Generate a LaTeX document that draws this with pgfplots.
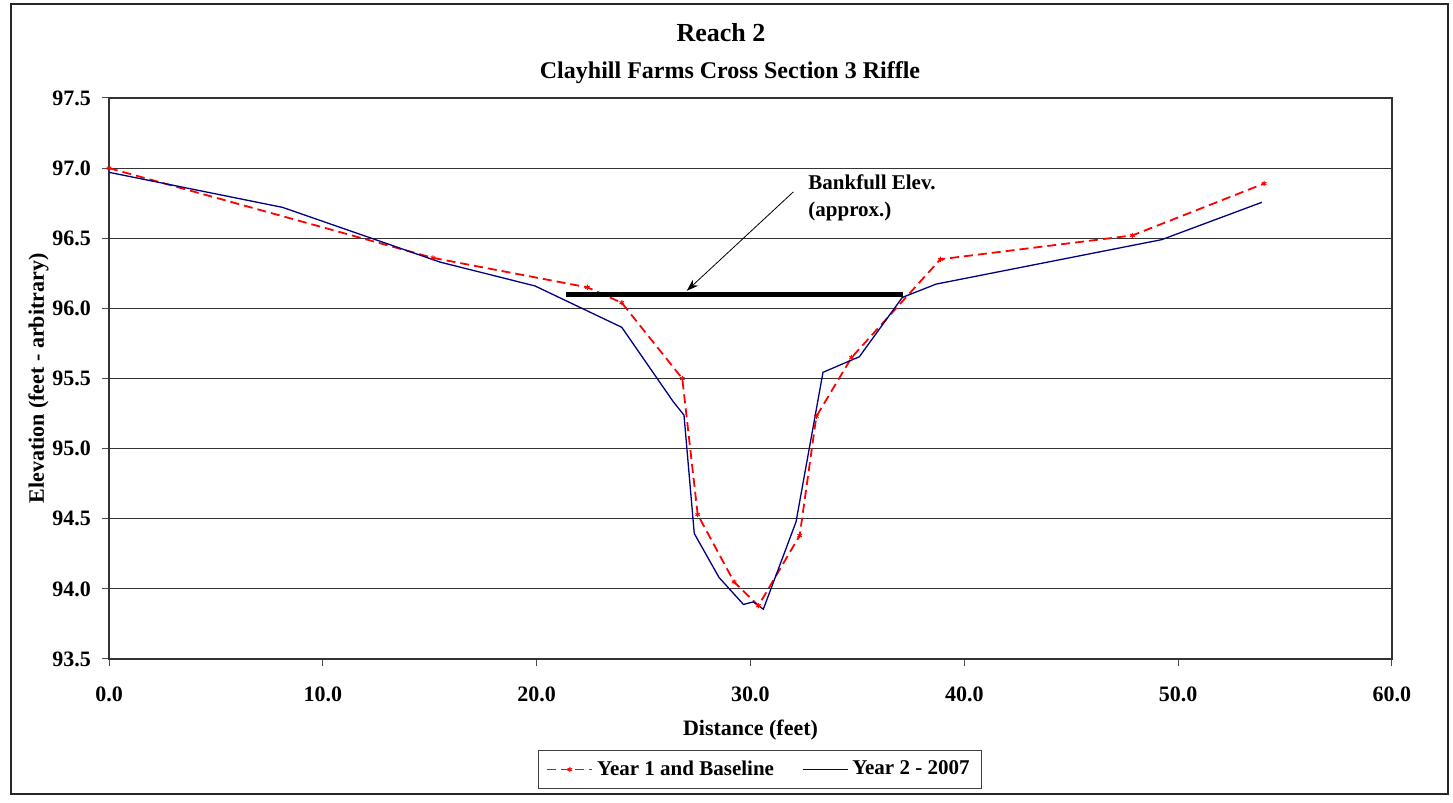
\documentclass[border=0pt]{standalone}
\usepackage{fontspec}
\setmainfont{Liberation Serif}
\usepackage{pgfplots}
\pgfplotsset{compat=1.18}
\usetikzlibrary{arrows.meta}

\definecolor{yearone}{RGB}{255,0,0}
\definecolor{yeartwo}{RGB}{0,0,128}

\begin{document}
\begin{tikzpicture}
  \path[use as bounding box] (0,0) rectangle (726.5pt,401.5pt);
  \draw[black!85, line width=0.8pt] (5.5pt,4.5pt) rectangle (724pt,399.5pt);
  \node[anchor=base, font=\bfseries\fontsize{13}{15}\selectfont] at (360.5pt,380.6pt) {Reach 2};
  \node[anchor=base, font=\bfseries\fontsize{12}{14}\selectfont] at (365pt,362.4pt) {Clayhill Farms Cross Section 3 Riffle};
  \begin{axis}[
    at={(54.5pt,72pt)}, anchor=south west,
    scale only axis,
    width=641.5pt, height=280.5pt,
    xmin=0, xmax=60, ymin=93.5, ymax=97.5,
    xtick={0,10,20,30,40,50,60},
    ytick={93.5,94.0,94.5,95.0,95.5,96.0,96.5,97.0,97.5},
    xtick pos=bottom, ytick pos=left,
    tick align=outside,
    major tick length=3.5pt,
    tick style={black!70, line width=0.5pt},
    ymajorgrids,
    major grid style={black!80, line width=0.5pt},
    axis line style={black!80, line width=0.6pt},
    /pgf/number format/.cd, fixed, fixed zerofill, precision=1, assume math mode=true,
    /pgfplots/.cd,
    ticklabel style={font=\bfseries\fontsize{11}{13}\selectfont},
    xticklabel style={yshift=-7pt},
    yticklabel style={xshift=-2pt},
    xlabel={Distance (feet)},
    ylabel={Elevation (feet - arbitrary)},
    label style={font=\bfseries\fontsize{11}{13}\selectfont},
    xlabel style={at={(axis description cs:0.5,-0.137)}, anchor=base},
    ylabel style={at={(axis description cs:-0.055,0.5)}, anchor=center},
    legend columns=2,
    legend style={at={(0.5074,-0.197)}, anchor=center,
      draw=black!75, line width=0.6pt,
      font=\bfseries\fontsize{10.5}{12}\selectfont,
      inner xsep=4pt, inner ysep=3pt,
      /tikz/every even column/.append style={column sep=12pt}},
    legend image code/.code={
      \draw[mark repeat=2, mark phase=2, #1] plot coordinates {(0pt,0pt) (11.25pt,0pt) (22.5pt,0pt)};},
  ]
    % Year 1 and Baseline
    \addplot[yearone, line width=0.9pt, dash pattern=on 4.5pt off 2.5pt,
      mark=asterisk, mark size=1.3pt, mark options={solid, line width=0.5pt}]
      coordinates {
        (0.00,97.00) (15.15,96.36) (22.37,96.15) (23.98,96.04) (26.81,95.50)
        (27.53,94.53) (29.23,94.05) (30.37,93.88) (32.30,94.38) (33.08,95.23)
        (34.73,95.65) (38.88,96.35) (47.86,96.52) (54.02,96.89)
      };
    \addlegendentry{Year 1 and Baseline}
    % Year 2 - 2007
    \addplot[yeartwo, line width=0.65pt, mark=none]
      coordinates {
        (0.00,96.97) (8.12,96.72) (15.48,96.33) (19.92,96.16) (23.98,95.865)
        (26.39,95.334) (26.89,95.239) (27.37,94.395) (28.53,94.081) (29.67,93.889)
        (30.13,93.907) (30.60,93.855) (32.13,94.478) (33.39,95.544) (35.09,95.655)
        (37.10,96.078) (38.68,96.173) (49.23,96.49) (53.91,96.756)
      };
    \addlegendentry{Year 2 - 2007}
    % bankfull elevation
    \addplot[black, line width=2.5pt, forget plot] coordinates {(21.37,96.1) (37.13,96.1)};
    \draw[black, line width=0.4pt, -{Stealth[length=6pt,width=4pt]}]
      (axis cs:32.0,96.83) -- (axis cs:27.02,96.125);
    \node[anchor=base west, inner sep=0pt, font=\bfseries\fontsize{10.5}{12}\selectfont]
      at (axis cs:32.69,96.849) {Bankfull Elev.};
    \node[anchor=base west, inner sep=0pt, font=\bfseries\fontsize{10.5}{12}\selectfont]
      at (axis cs:32.69,96.658) {(approx.)};
  \end{axis}
\end{tikzpicture}
\end{document}
